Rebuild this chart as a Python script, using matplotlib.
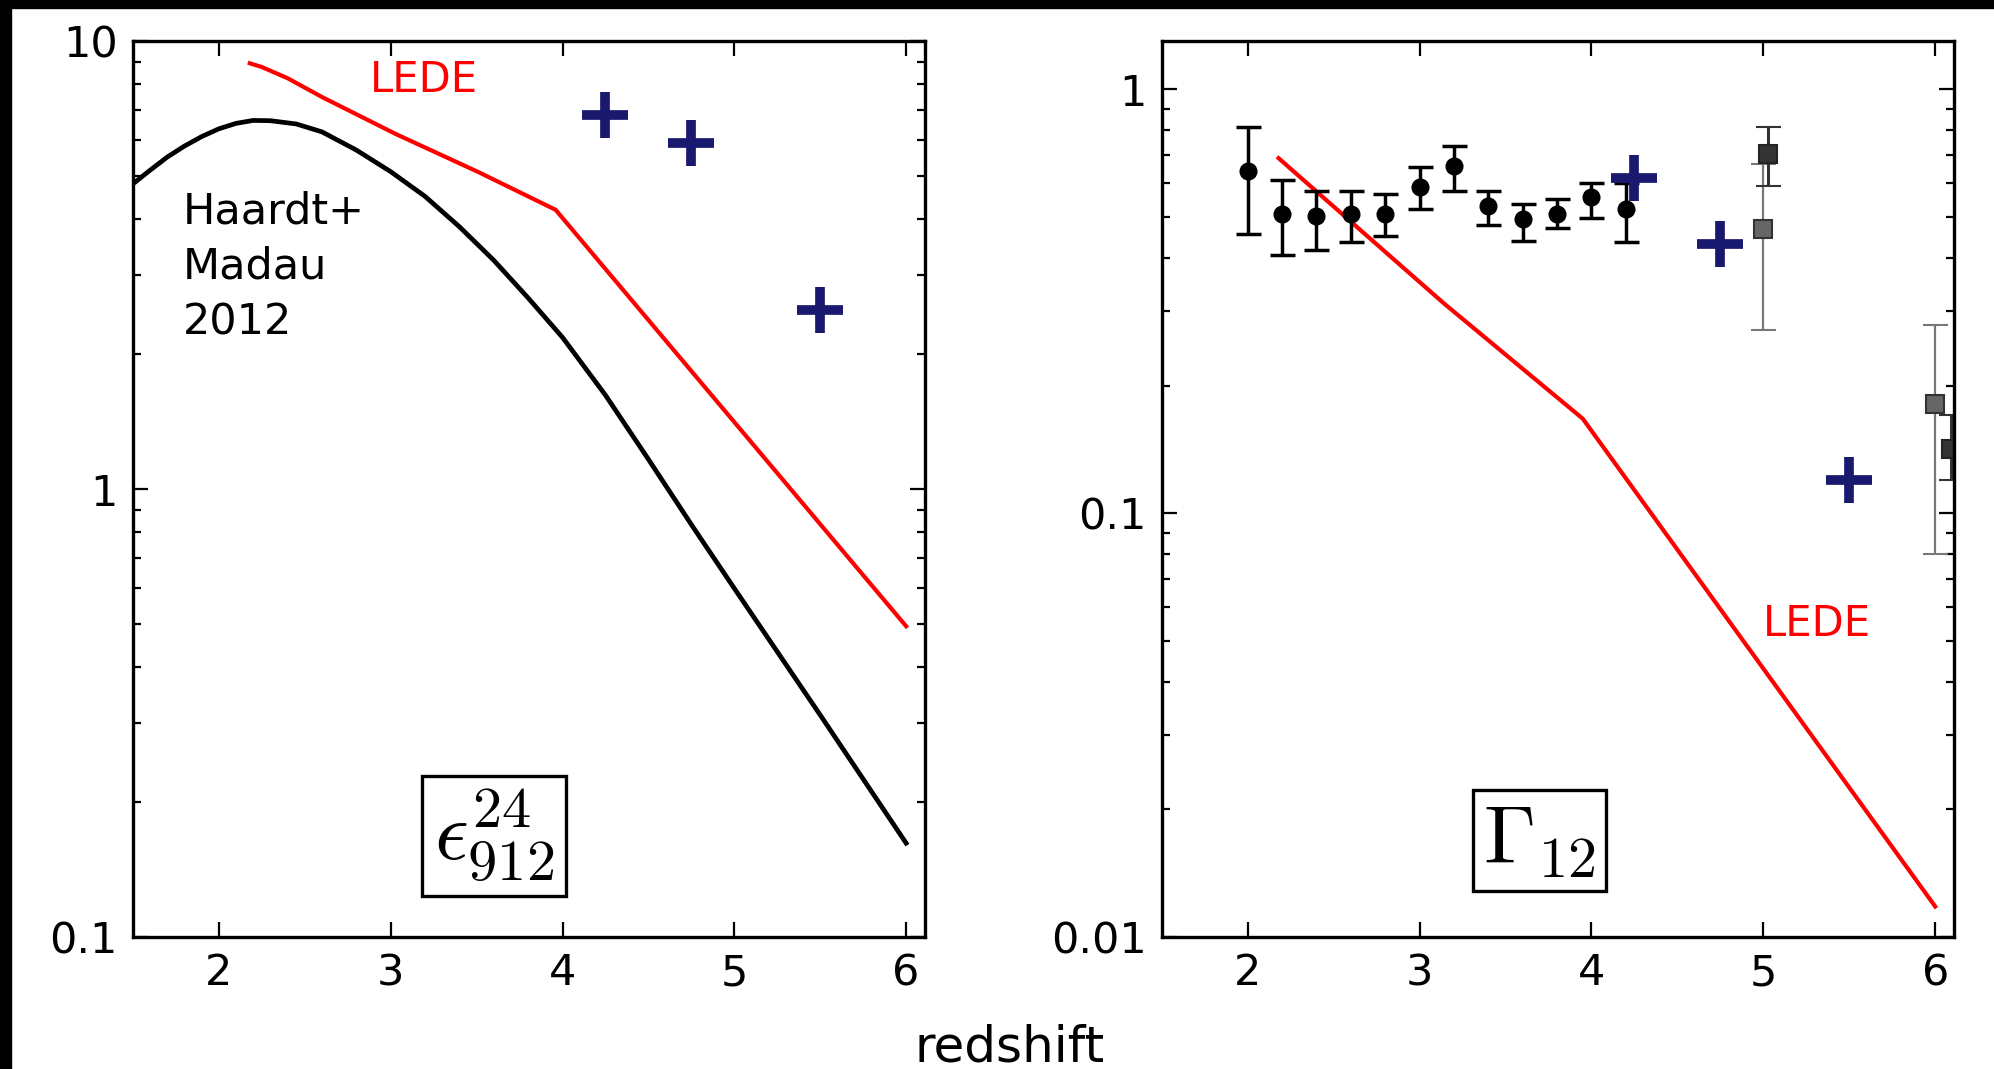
import numpy as np
import matplotlib
matplotlib.use('Agg')
import matplotlib.pyplot as plt
from matplotlib.patches import Rectangle
from matplotlib.ticker import NullFormatter, NullLocator

# emissivity panel (left)
hm_z = [1.5, 1.6, 1.7, 1.8, 1.9, 2.0, 2.1, 2.2, 2.3, 2.45, 2.6, 2.8, 3.0, 3.2, 3.4,
        3.6, 3.8, 4.0, 4.25, 4.5, 4.76, 5.0, 5.5, 6.0]
hm_eps = [4.80, 5.15, 5.51, 5.83, 6.12, 6.37, 6.55, 6.65, 6.64, 6.53, 6.27, 5.71, 5.11,
          4.50, 3.85, 3.24, 2.67, 2.18, 1.62, 1.165, 0.822, 0.600, 0.313, 0.162]

lede_z_eps = [2.18, 2.25, 2.4, 2.6, 3.03, 3.51, 3.96, 6.0]
lede_eps = [8.92, 8.75, 8.26, 7.5, 6.2, 5.1, 4.2, 0.494]

plus_z = [4.25, 4.75, 5.5]
plus_eps = [6.83, 5.93, 2.51]

# photoionization rate panel (right)
lede_z_gam = [2.18, 3.14, 3.95, 6.0]
lede_gam = [0.688, 0.313, 0.167, 0.0118]

plus_gam = [0.618, 0.432, 0.120]

bb_z = [2.0, 2.2, 2.4, 2.6, 2.8, 3.0, 3.2, 3.4, 3.6, 3.8, 4.0, 4.2]
bb_gam = [0.641, 0.509, 0.502, 0.509, 0.509, 0.588, 0.661, 0.532, 0.495, 0.509, 0.556, 0.523]
bb_hi = [0.815, 0.612, 0.577, 0.575, 0.567, 0.655, 0.736, 0.575, 0.535, 0.552, 0.601, 0.600]
bb_lo = [0.455, 0.407, 0.418, 0.436, 0.450, 0.521, 0.577, 0.478, 0.438, 0.471, 0.497, 0.437]

sq1_z = [5.0, 6.0]
sq1_gam = [0.469, 0.181]
sq1_hi = [0.665, 0.278]
sq1_lo = [0.271, 0.0803]

sq2_z = [5.03, 6.09]
sq2_gam = [0.705, 0.142]
sq2_hi = [0.815, 0.170]
sq2_lo = [0.592, 0.1196]

plt.rcParams['font.family'] = ['DejaVu Sans']
plt.rcParams['font.size'] = 31
plt.rcParams['mathtext.fontset'] = 'cm'

fig = plt.figure(figsize=(19.94, 10.69), dpi=100)
ax1 = fig.add_axes([0.0667, 0.1235, 0.3972, 0.8381])
ax2 = fig.add_axes([0.5826, 0.1235, 0.3974, 0.8381])

navy = '#191970'

for ax in (ax1, ax2):
    ax.set_yscale('log')
    ax.set_xlim(1.5, 6.11)
    ax.set_xticks([2, 3, 4, 5, 6])
    ax.xaxis.set_minor_locator(NullLocator())
    ax.yaxis.set_minor_formatter(NullFormatter())
    ax.tick_params(which='both', direction='in', top=True, right=True, width=1.6)
    ax.tick_params(which='major', length=11, pad=11)
    ax.tick_params(which='minor', length=6)
    for s in ax.spines.values():
        s.set_linewidth(2.4)

# left panel
ax1.set_ylim(0.1, 10)
ax1.set_yticks([0.1, 1, 10], ['0.1', '1', '10'])
ax1.plot(hm_z, hm_eps, color='black', lw=3.4)
ax1.plot(lede_z_eps, lede_eps, color='red', lw=3)
ax1.plot(plus_z, plus_eps, ls='none', marker='+', ms=33, mew=7, color=navy)
ax1.text(2.88, 8.2, 'LEDE', color='red', va='center', ha='left', fontsize=30)
ax1.text(1.79, 4.65, 'Haardt+\nMadau\n2012', va='top', ha='left', fontsize=31,
         linespacing=1.42)
ax1.text(3.6, 0.168, r'$\epsilon_{912}^{24}$', ha='center', va='center', fontsize=60,
         bbox=dict(boxstyle='square,pad=0.14', fc='white', ec='black', lw=2.4))

# right panel
ax2.set_ylim(0.01, 1.3)
ax2.set_yticks([0.01, 0.1, 1], ['0.01', '0.1', '1'])
ax2.plot(lede_z_gam, lede_gam, color='red', lw=3)
ax2.errorbar(bb_z, bb_gam,
             yerr=[np.array(bb_gam) - np.array(bb_lo), np.array(bb_hi) - np.array(bb_gam)],
             fmt='o', color='black', ms=12, elinewidth=2.5, capsize=9, capthick=2.5)
ax2.errorbar(sq1_z, sq1_gam,
             yerr=[np.array(sq1_gam) - np.array(sq1_lo), np.array(sq1_hi) - np.array(sq1_gam)],
             fmt='s', color='#777777', mfc='#666666', mec='#333333', ms=13, mew=1.5,
             elinewidth=1.6, capsize=9, capthick=1.6)
ax2.errorbar(sq2_z, sq2_gam,
             yerr=[np.array(sq2_gam) - np.array(sq2_lo), np.array(sq2_hi) - np.array(sq2_gam)],
             fmt='s', color='#333333', mfc='#333333', mec='#222222', ms=13, mew=1.5,
             elinewidth=2.2, capsize=9, capthick=2.2)
ax2.plot(plus_z, plus_gam, ls='none', marker='+', ms=33, mew=7, color=navy)
ax2.text(5.0, 0.0548, 'LEDE', color='red', va='center', ha='left', fontsize=30)
ax2.text(3.7, 0.0169, r'$\Gamma_{12}$', ha='center', va='center', fontsize=60,
         bbox=dict(boxstyle='square,pad=0.12', fc='white', ec='black', lw=2.4))

fig.text(0.5065, 0.007, 'redshift', ha='center', va='baseline', fontsize=36)

# black frame strips along the top and left edges
fig.add_artist(Rectangle((0, 1 - 7.5 / 1069), 1, 7.5 / 1069, transform=fig.transFigure,
                         color='black', zorder=10))
fig.add_artist(Rectangle((0, 0), 11 / 1994, 1, transform=fig.transFigure,
                         color='black', zorder=10))

fig.savefig('out.png', dpi=100)
